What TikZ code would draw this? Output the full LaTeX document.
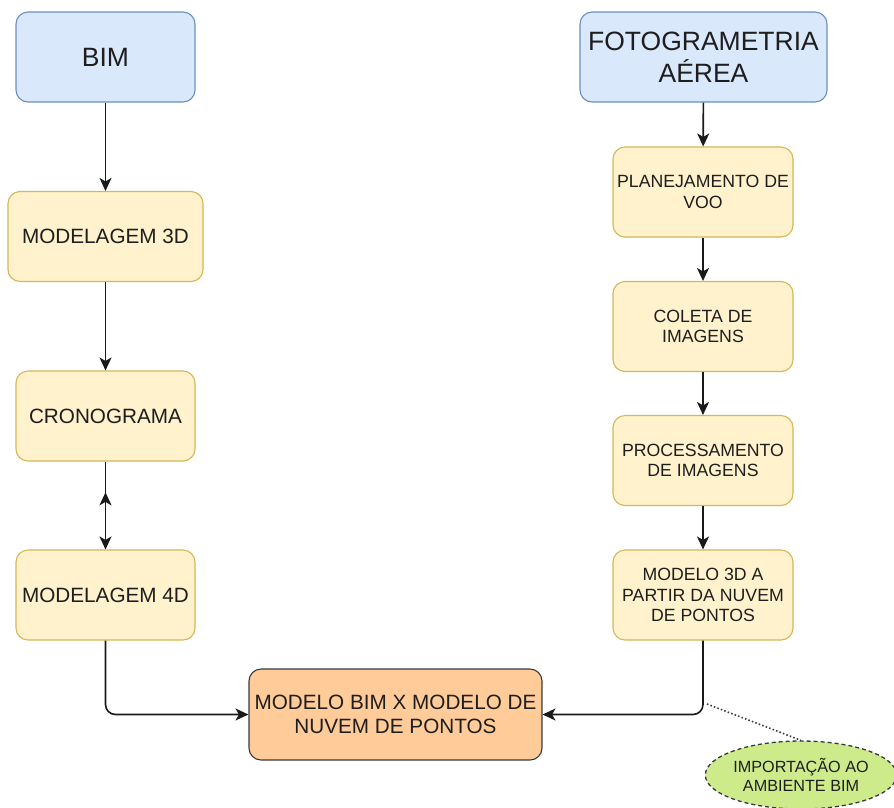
\documentclass[tikz,border=0pt]{standalone}
\usepackage{fontspec}
\setmainfont{Liberation Sans}
\usetikzlibrary{arrows.meta,shapes.geometric,calc}
\definecolor{bluefill}{HTML}{DAE8FC}
\definecolor{blueline}{HTML}{6C8EBF}
\definecolor{yelfill}{HTML}{FFF2CC}
\definecolor{yelline}{HTML}{D6B656}
\definecolor{orfill}{HTML}{FFCC99}
\definecolor{grfill}{HTML}{CDEB8B}
\definecolor{darkline}{HTML}{36393D}
\definecolor{txt}{HTML}{1E1E1E}
\begin{document}
\begin{tikzpicture}[x=1pt,y=-1pt,
  box/.style={rectangle, rounded corners=12pt, draw, line width=1.1pt,
    align=center, inner sep=0pt, text=txt},
  headbox/.style={box, fill=bluefill, draw=blueline, minimum height=90pt,
    font=\fontsize{26.5}{32}\selectfont},
  leftbox/.style={box, fill=yelfill, draw=yelline, minimum width=179pt,
    minimum height=90pt, font=\fontsize{20.7}{24}\selectfont},
  rightbox/.style={box, fill=yelfill, draw=yelline, minimum width=180pt,
    minimum height=90pt, font=\fontsize{17.7}{20.7}\selectfont},
  conn/.style={line width=1.6pt, draw=black!90,
    -{Stealth[length=13pt,width=12pt,inset=3.5pt]}},
]
\useasboundingbox (0,0) rectangle (894,807);

% left column: BIM workflow
\node[headbox, minimum width=179pt] (bim) at (105.5,57) {BIM};
\node[leftbox, minimum width=195pt] (m3d) at (105.5,236.5) {MODELAGEM 3D};
\node[leftbox] (cron) at (105.5,416) {CRONOGRAMA};
\node[leftbox] (m4d) at (105.5,595) {MODELAGEM 4D};

% right column: aerial photogrammetry workflow
\node[headbox, minimum width=247pt] (foto) at (703.5,57) {FOTOGRAMETRIA\\AÉREA};
\node[rightbox] (plan) at (703,192) {PLANEJAMENTO DE\\VOO};
\node[rightbox] (col) at (703,326.5) {COLETA DE\\IMAGENS};
\node[rightbox] (proc) at (703,460.5) {PROCESSAMENTO\\DE IMAGENS};
\node[rightbox] (nuv) at (703,595) {MODELO 3D A\\PARTIR DA NUVEM\\DE PONTOS};

% comparison box
\node[box, fill=orfill, draw=darkline, minimum width=293pt, minimum height=91pt,
  font=\fontsize{20.7}{23.5}\selectfont] (comp) at (395.5,714.5)
  {MODELO BIM X MODELO DE\\NUVEM DE PONTOS};

% annotation ellipse
\node[ellipse, draw=darkline, fill=grfill, dashed, dash pattern=on 4pt off 3pt,
  line width=1.3pt, minimum width=186pt, minimum height=68pt, inner sep=0pt,
  align=center, text=txt, font=\fontsize{16.2}{19}\selectfont] (imp) at (801,775)
  {IMPORTAÇÃO AO\\AMBIENTE BIM};

% connectors
\draw[conn] (bim) -- (m3d);
\draw[conn] (m3d) -- (cron);
\draw[conn] (cron.south) -- (m4d.north);
\draw[conn] (m4d.north) -- ($(cron.south)!0.35!(m4d.north)$);
\draw[conn, rounded corners=10pt] (m4d.south) |- (comp.west);

\draw[conn] (foto) -- (plan);
\draw[conn] (plan) -- (col);
\draw[conn] (col) -- (proc);
\draw[conn] (proc) -- (nuv);
\draw[conn, rounded corners=10pt] (nuv.south) |- (comp.east);

% dotted link from the import path to the annotation
\coordinate (tap) at (707,704);
\draw[line width=1.6pt, draw=darkline, dash pattern=on 1.5pt off 2.2pt]
  (tap) -- (imp.north);
\end{tikzpicture}
\end{document}
